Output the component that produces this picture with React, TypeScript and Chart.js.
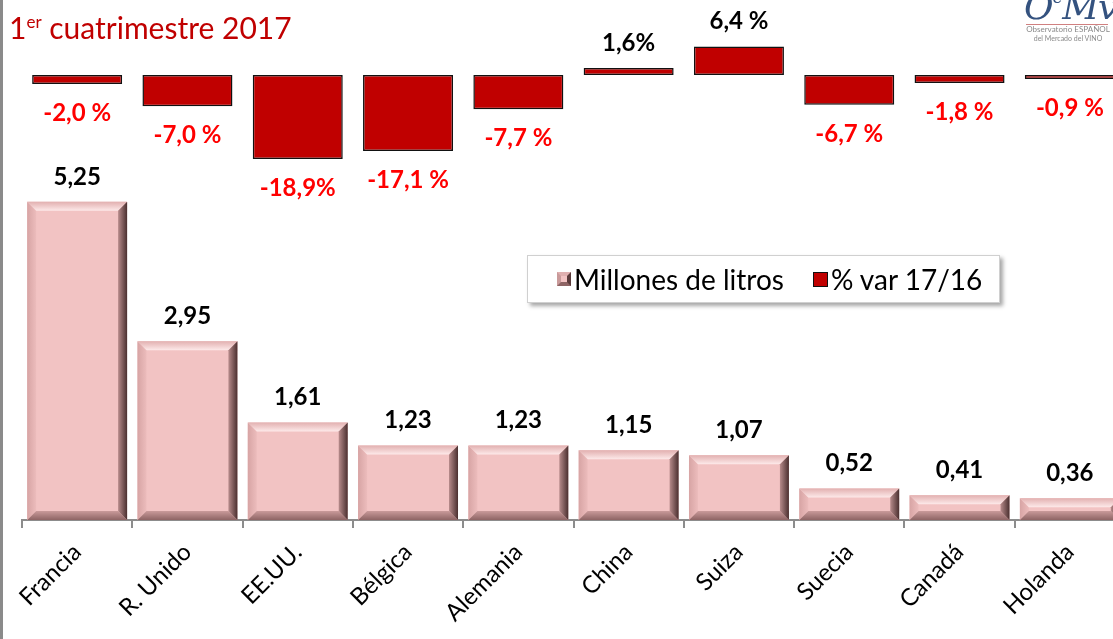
import React, { useEffect, useRef } from "react";
import { Chart, registerables } from "chart.js";

Chart.register(...registerables);

const categories = ["Francia", "R. Unido", "EE.UU.", "Bélgica", "Alemania", "China", "Suiza", "Suecia", "Canadá", "Holanda"];
const litros = [5.25, 2.95, 1.61, 1.23, 1.23, 1.15, 1.07, 0.52, 0.41, 0.36];
const variacion = [-2.0, -7.0, -18.9, -17.1, -7.7, 1.6, 6.4, -6.7, -1.8, -0.9];
const litrosLabels = ["5,25", "2,95", "1,61", "1,23", "1,23", "1,15", "1,07", "0,52", "0,41", "0,36"];
const variacionLabels = ["-2,0 %", "-7,0 %", "-18,9%", "-17,1 %", "-7,7 %", "1,6%", "6,4 %", "-6,7 %", "-1,8 %", "-0,9 %"];
const seriesNames = ["Millones de litros", "% var 17/16"];
const FONT = "Lato, 'Open Sans', sans-serif";

const bevelPlugin = {
  id: "bevel",
  afterDatasetDraw(chart: any, args: any) {
    if (args.index !== 0) return;
    const ctx = chart.ctx;
    const meta = chart.getDatasetMeta(0);
    meta.data.forEach((bar: any) => {
      const { x, y, base, width } = bar.getProps(["x", "y", "base", "width"], true);
      const l = x - width / 2;
      const r = x + width / 2;
      const t = y;
      const b = base;
      const h = b - t;
      const d = Math.min(9, h / 2);
      ctx.save();
      let g = ctx.createLinearGradient(l, 0, l + d, 0);
      g.addColorStop(0, "#d7a4a4");
      g.addColorStop(1, "#ecbcbc");
      ctx.fillStyle = g;
      ctx.beginPath();
      ctx.moveTo(l, t);
      ctx.lineTo(l + d, t + d);
      ctx.lineTo(l + d, b - d);
      ctx.lineTo(l, b);
      ctx.closePath();
      ctx.fill();
      g = ctx.createLinearGradient(0, t, 0, t + d);
      g.addColorStop(0, "#e2b0b0");
      g.addColorStop(1, "#fde9e9");
      ctx.fillStyle = g;
      ctx.beginPath();
      ctx.moveTo(l, t);
      ctx.lineTo(r, t);
      ctx.lineTo(r - d, t + d);
      ctx.lineTo(l + d, t + d);
      ctx.closePath();
      ctx.fill();
      g = ctx.createLinearGradient(0, b - d, 0, b);
      g.addColorStop(0, "#c99a9a");
      g.addColorStop(1, "#8e6464");
      ctx.fillStyle = g;
      ctx.beginPath();
      ctx.moveTo(l, b);
      ctx.lineTo(r, b);
      ctx.lineTo(r - d, b - d);
      ctx.lineTo(l + d, b - d);
      ctx.closePath();
      ctx.fill();
      g = ctx.createLinearGradient(r - d, 0, r, 0);
      g.addColorStop(0, "#b78b8b");
      g.addColorStop(1, "#4a2f2f");
      ctx.fillStyle = g;
      ctx.beginPath();
      ctx.moveTo(r, t);
      ctx.lineTo(r, b);
      ctx.lineTo(r - d, b - d);
      ctx.lineTo(r - d, t + d);
      ctx.closePath();
      ctx.fill();
      ctx.restore();
    });
  },
};

const labelPlugin = {
  id: "valueLabels",
  afterDatasetsDraw(chart: any) {
    const ctx = chart.ctx;
    ctx.save();
    ctx.textAlign = "center";
    ctx.textBaseline = "middle";
    ctx.font = `bold 24px ${FONT}`;
    chart.getDatasetMeta(0).data.forEach((bar: any, i: number) => {
      ctx.fillStyle = "#000000";
      ctx.fillText(litrosLabels[i], bar.x, bar.y - 25);
    });
    chart.getDatasetMeta(1).data.forEach((bar: any, i: number) => {
      if (variacion[i] < 0) {
        ctx.fillStyle = "#ff0000";
        ctx.fillText(variacionLabels[i], bar.x, bar.y + 29);
      } else {
        ctx.fillStyle = "#000000";
        ctx.fillText(variacionLabels[i], bar.x, bar.y - 25);
      }
    });
    ctx.restore();
  },
};

export default function App() {
  const canvasRef = useRef<HTMLCanvasElement | null>(null);

  useEffect(() => {
    if (!canvasRef.current) return;
    const chart = new Chart(canvasRef.current, {
      type: "bar",
      data: {
        labels: categories,
        datasets: [
          {
            label: seriesNames[0],
            data: litros,
            yAxisID: "y",
            backgroundColor: "#f2c3c3",
            borderWidth: 0,
            grouped: false,
            barPercentage: 0.906,
            categoryPercentage: 1,
          } as any,
          {
            label: seriesNames[1],
            data: variacion,
            yAxisID: "y2",
            backgroundColor: "#c00000",
            borderColor: "#111111",
            borderWidth: 1.5,
            borderSkipped: false,
            grouped: false,
            barPercentage: 0.816,
            categoryPercentage: 1,
          } as any,
        ],
      },
      options: {
        responsive: false,
        animation: false,
        devicePixelRatio: 1,
        layout: { padding: { left: 22, right: 15, top: 20, bottom: 0 } },
        plugins: { legend: { display: false }, tooltip: { enabled: false } },
        scales: {
          x: {
            type: "category",
            offset: true,
            grid: {
              offset: true,
              drawOnChartArea: false,
              drawTicks: true,
              tickLength: 8,
              color: "#8c8c8c",
              lineWidth: 2,
            },
            border: { display: true, color: "#8c8c8c", width: 2 },
            ticks: {
              minRotation: 45,
              maxRotation: 45,
              autoSkip: false,
              color: "#000000",
              font: { family: FONT, size: 24 },
              padding: 10,
            },
            afterFit: (s: any) => {
              s.height = 119;
            },
          },
          y: { display: false, min: 0, max: 8.25 },
          y2: { display: false, min: -100, max: 12.36, position: "left" },
        },
      } as any,
      plugins: [bevelPlugin, labelPlugin],
    });
    return () => chart.destroy();
  }, []);

  return (
    <div
      style={{
        position: "fixed",
        left: 0,
        top: 0,
        width: 1113,
        height: 639,
        overflow: "hidden",
        background: "#ffffff",
        fontFamily: FONT,
      }}
    >
      <canvas ref={canvasRef} width={1140} height={639} style={{ display: "block", width: 1140, height: 639 }} />
      <div style={{ position: "absolute", left: 0, top: 0, width: 3, height: 639, background: "#8a8a8a" }} />
      <div
        style={{
          position: "absolute",
          left: 9,
          top: 9,
          color: "#c00000",
          fontSize: 30,
          lineHeight: "36px",
          whiteSpace: "nowrap",
        }}
      >
        1<sup style={{ fontSize: 17, verticalAlign: "top", position: "relative", top: -5 }}>er</sup> cuatrimestre 2017
      </div>
      <div
        style={{
          position: "absolute",
          left: 1024,
          top: -14,
          color: "#34527f",
          fontFamily: "'DejaVu Serif', serif",
          fontSize: 36,
          fontStyle: "italic",
          letterSpacing: -1,
          whiteSpace: "nowrap",
        }}
      >
        O<span style={{ fontSize: 18, verticalAlign: "top" }}>e</span>Mv
      </div>
      <div style={{ position: "absolute", left: 1026, top: 24, width: 82, height: 1, background: "#d08080" }} />
      <div
        style={{
          position: "absolute",
          left: 1024,
          top: 25,
          width: 88,
          textAlign: "center",
          color: "#8a8a8a",
          fontSize: 8,
          lineHeight: "9px",
          whiteSpace: "nowrap",
        }}
      >
        Observatorio ESPAÑOL
        <br />
        <span style={{ fontSize: 7 }}>del Mercado del VINO</span>
      </div>
      <div
        style={{
          position: "absolute",
          left: 527,
          top: 255,
          width: 473,
          height: 48,
          background: "#ffffff",
          border: "1px solid #d0d0d0",
          boxShadow: "3px 3px 4px rgba(0,0,0,0.35)",
          boxSizing: "border-box",
          display: "flex",
          alignItems: "center",
          fontSize: 28,
          color: "#000000",
          whiteSpace: "nowrap",
        }}
      >
        <div
          style={{
            marginLeft: 29,
            width: 14,
            height: 14,
            boxSizing: "border-box",
            background: "#f2c3c3",
            borderStyle: "solid",
            borderWidth: 4,
            borderColor: "#e0b0b0 #5a3b3b #8e6464 #c99a9a",
          }}
        />
        <span style={{ marginLeft: 3 }}>{seriesNames[0]}</span>
        <div
          style={{
            marginLeft: 29,
            width: 15,
            height: 15,
            boxSizing: "border-box",
            background: "#c00000",
            border: "1.5px solid #111111",
          }}
        />
        <span style={{ marginLeft: 3 }}>{seriesNames[1]}</span>
      </div>
    </div>
  );
}
